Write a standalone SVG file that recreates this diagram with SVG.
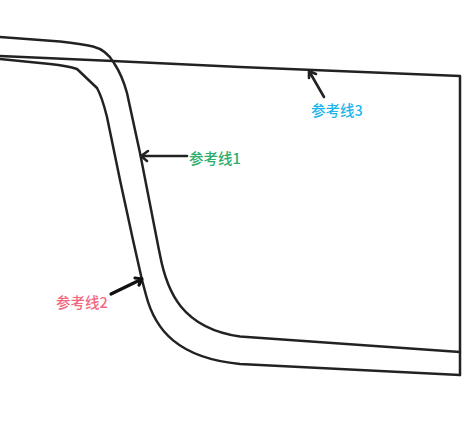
<svg xmlns="http://www.w3.org/2000/svg" width="472" height="425" viewBox="0 0 472 425">
<style>
.l{fill:none;stroke:#222;stroke-width:2.5;stroke-linecap:round;stroke-linejoin:round}
.a{fill:none;stroke:#222;stroke-width:2.6;stroke-linecap:round;stroke-linejoin:round}
.b{fill:none;stroke:#111;stroke-width:3.2;stroke-linecap:round;stroke-linejoin:round}
.t{font-family:"Noto Sans CJK SC","Noto Sans",sans-serif;font-size:14.500px;font-weight:500}
</style>
<rect width="472" height="425" fill="#fff"/>
<g id="connectors">
<path class="l" d="M0 56L113 61L240 67L460 76L460 375"/>
<path class="l" d="M0 37L60 41.500Q82 44 93 46.500C103 49 110 56 114 63C120 72 124 82 127 93L140 153L157 240Q158.500 248 160 255C167 292 182 328 240 336.500L460 352"/>
<path class="l" d="M0 59L50 64Q68 66 77 69L97 88C101 95 104 105 107 117L120 180L133 240L142 280L146 295C155 330 178 358 240 364L460 375"/>
<path class="a" d="M187 156L142 156M148 151L141 156L147 161"/>
<path class="b" d="M111 294L142 279M135 278L142 279L139 285"/>
<path class="a" d="M324 97L309 71M309 78L309 71L316 74"/>
</g>
<g id="label1"><text class="t" x="189" y="164" fill="#2aae6c">参考线1</text></g>
<g id="label2"><text class="t" x="56" y="308" fill="#f2687e">参考线2</text></g>
<g id="label3"><text class="t" x="311" y="116" fill="#1cb6ee">参考线3</text></g>
</svg>
